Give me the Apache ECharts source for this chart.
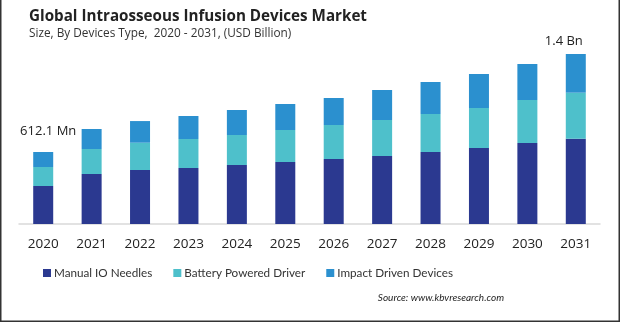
<!DOCTYPE html>
<html>
<head>
<meta charset="utf-8">
<script src="https://cdn.jsdelivr.net/npm/echarts@6/dist/echarts.min.js"></script>
<style>
  html, body { margin: 0; padding: 0; background: #fff; }
  #chart { width: 620px; height: 322px; }
</style>
</head>
<body>
<div id="chart"></div>
<script>
// Market size by device type, USD million
const years = ['2020', '2021', '2022', '2023', '2024', '2025', '2026', '2027', '2028', '2029', '2030', '2031'];
const manualIONeedles = [323.0, 425.0, 459.0, 476.0, 501.5, 527.0, 552.5, 578.0, 612.0, 646.0, 688.5, 725.0];
const batteryPoweredDriver = [161.6, 212.5, 232.0, 246.5, 255.0, 272.0, 289.0, 306.0, 323.0, 340.0, 365.5, 391.0];
const impactDrivenDevices = [127.5, 170.0, 184.0, 195.5, 212.5, 221.0, 229.5, 255.0, 272.0, 289.0, 306.0, 329.0];
const seriesNames = ['Manual IO Needles', 'Battery Powered Driver', 'Impact Driven Devices'];

const totals = years.map((_, i) => manualIONeedles[i] + batteryPoweredDriver[i] + impactDrivenDevices[i]);

function totalText(v) {
  return v >= 1000 ? (v / 1000).toFixed(1) + ' Bn' : v.toFixed(1) + ' Mn';
}

// Totals shown only for first and last year
const topData = impactDrivenDevices.map((v, i) => {
  const item = { value: v };
  if (i === 0) {
    item.label = { show: true, offset: [5, -8] };
  } else if (i === years.length - 1) {
    item.label = { show: true, offset: [-12, 0] };
  }
  return item;
});

const chart = echarts.init(document.getElementById('chart'), null, { renderer: 'canvas' });
const font = 'Open Sans, Noto Sans, sans-serif';
const narrowFont = 'Lato, Open Sans, sans-serif';

chart.setOption({
  animation: false,
  textStyle: { fontFamily: font },
  title: {
    text: 'Global Intraosseous Infusion Devices Market',
    subtext: 'Size, By Devices Type,  2020 - 2031, (USD Billion)',
    left: 24,
    top: 4,
    itemGap: 4,
    textStyle: { fontSize: 15.2, fontWeight: 'bold', color: '#222', fontFamily: font },
    subtextStyle: { fontSize: 11.8, color: '#333', fontFamily: font }
  },
  legend: {
    data: seriesNames,
    bottom: 38,
    left: 38,
    itemWidth: 8,
    itemHeight: 8,
    itemGap: 21,
    icon: 'rect',
    textStyle: { fontSize: 11.7, color: '#333', fontFamily: narrowFont, padding: [0, 0, 0, -2] }
  },
  grid: { left: 19, right: 20, top: 24, bottom: 98, containLabel: false },
  xAxis: {
    type: 'category',
    data: years,
    axisLine: { show: true, lineStyle: { color: '#d9d9d9', width: 1.5 } },
    axisTick: { show: false },
    axisLabel: { fontSize: 13.5, color: '#222', margin: 13, fontFamily: font }
  },
  yAxis: {
    type: 'value',
    min: 0,
    max: 1700,
    show: false,
    splitLine: { show: false }
  },
  series: [
    {
      name: seriesNames[0], type: 'bar', stack: 'total', barWidth: 20,
      itemStyle: { color: '#2b3990' }, data: manualIONeedles
    },
    {
      name: seriesNames[1], type: 'bar', stack: 'total', barWidth: 20,
      itemStyle: { color: '#4ec0cb' }, data: batteryPoweredDriver
    },
    {
      name: seriesNames[2], type: 'bar', stack: 'total', barWidth: 20,
      itemStyle: { color: '#2b90cf' },
      label: {
        show: false,
        position: 'top',
        distance: 6,
        fontSize: 13,
        color: '#222',
        fontFamily: font,
        formatter: p => totalText(totals[p.dataIndex])
      },
      data: topData
    }
  ],
  graphic: [
    {
      type: 'text', right: 116, bottom: 19,
      style: { text: 'Source: www.kbvresearch.com', fontSize: 10, fontStyle: 'italic', fill: '#222', fontFamily: narrowFont }
    },
    { type: 'rect', shape: { x: 0, y: 0, width: 1.5, height: 322 }, style: { fill: '#333' } },
    { type: 'rect', shape: { x: 618.5, y: 0, width: 1.5, height: 322 }, style: { fill: '#333' } },
    { type: 'rect', shape: { x: 0, y: 320.5, width: 620, height: 1.5 }, style: { fill: '#333' } }
  ]
});
</script>
</body>
</html>
